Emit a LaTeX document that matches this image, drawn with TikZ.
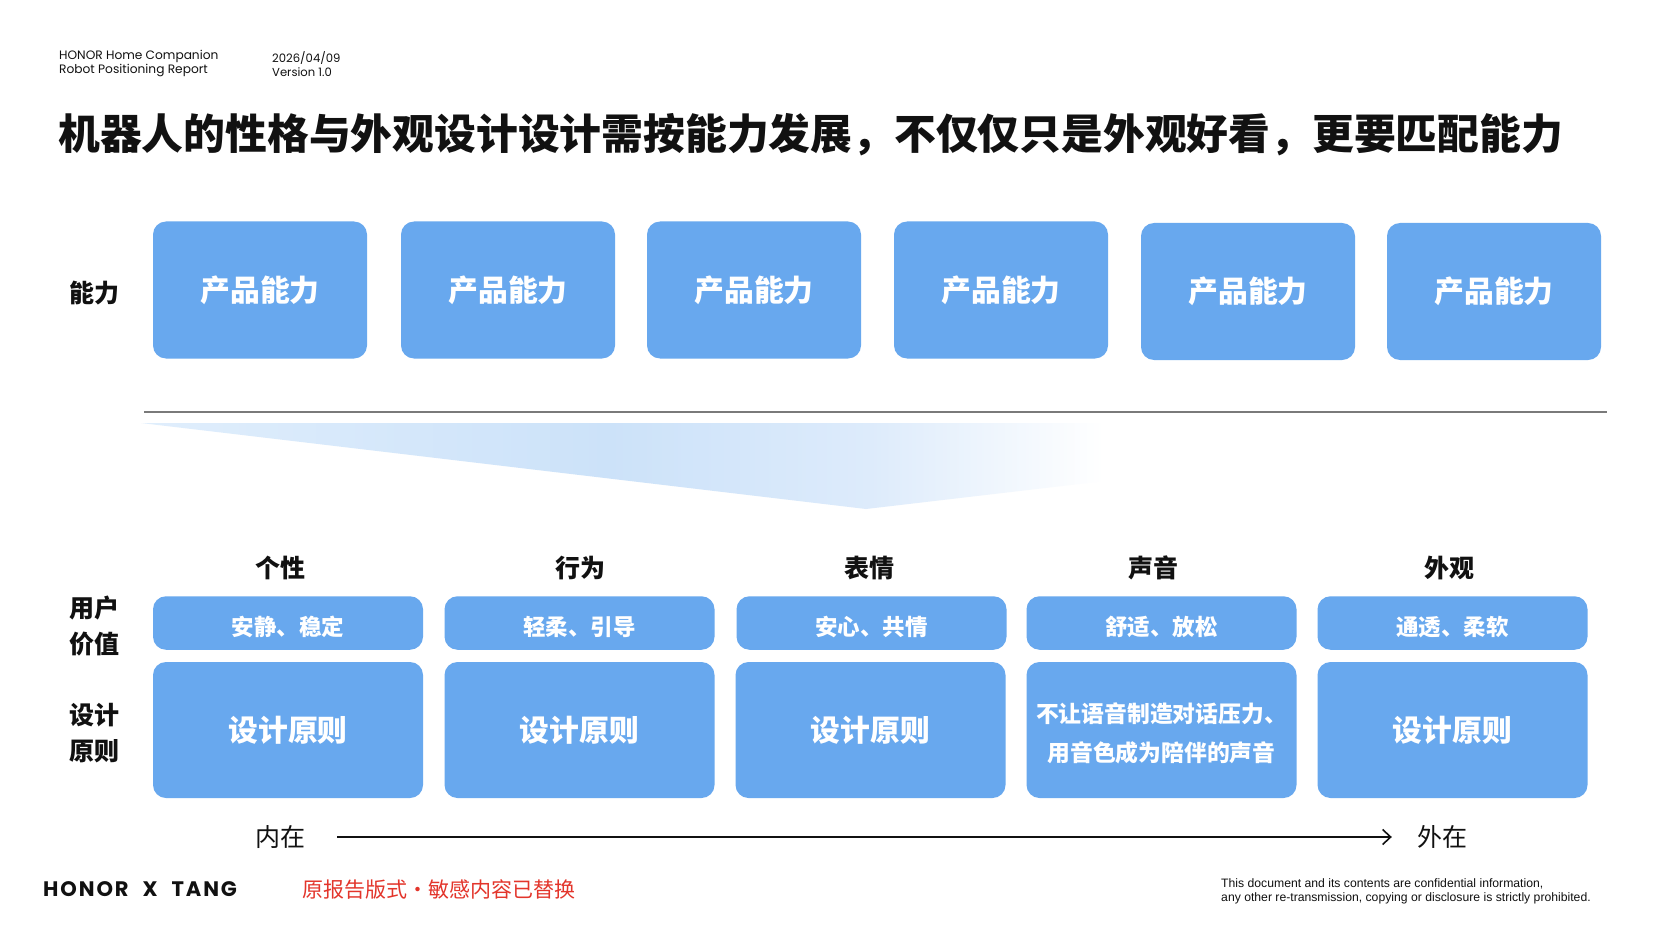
\documentclass[tikz,border=0pt]{standalone}
\usepackage{fontspec}
\usetikzlibrary{arrows.meta}
\setmainfont{Noto Sans CJK SC}
\newfontfamily\pop{Poppins}
\newfontfamily\popls{Poppins}[LetterSpace=9]
\newfontfamily\arial{Liberation Sans}
\definecolor{boxblue}{HTML}{68A8EE}
\definecolor{inkblack}{HTML}{111111}
\definecolor{fanA}{HTML}{E0EEFC}
\definecolor{fanB}{HTML}{CCE2F9}
\definecolor{fanC}{HTML}{DDEBFB}
\definecolor{redtxt}{HTML}{E3352B}
\definecolor{rulegray}{HTML}{7A7A7A}
\pgfdeclarehorizontalshading{fanshade}{100bp}{color(0bp)=(fanA); color(25bp)=(fanA); color(41bp)=(fanB); color(50bp)=(fanC); color(58bp)=(white); color(100bp)=(white)}
\tikzset{
  capbox/.style={fill=boxblue, rounded corners=13pt, minimum width=214pt, minimum height=137pt, inner sep=0pt, text=white, font=\fontsize{29.8}{34}\selectfont\bfseries},
  valbox/.style={fill=boxblue, rounded corners=13pt, minimum width=270pt, minimum height=53.5pt, inner sep=0pt, text=white, text height=26pt, text depth=2pt, font=\fontsize{22.5}{25}\selectfont\bfseries},
  prinbox/.style={fill=boxblue, rounded corners=13pt, minimum width=270pt, minimum height=136pt, inner sep=0pt, text=white, align=center, font=\fontsize{29.8}{34}\selectfont\bfseries},
  smallprin/.style={font=\fontsize{22.8}{39}\selectfont\bfseries},
  rowlab/.style={inner sep=0pt, align=center, text=inkblack, font=\fontsize{25}{35.5}\selectfont\bfseries},
  colhead/.style={inner sep=0pt, text=inkblack, font=\fontsize{25}{30}\selectfont\bfseries},
  axislab/.style={inner sep=0pt, text=inkblack, font=\fontsize{25}{30}\selectfont},
}
\begin{document}
\begin{tikzpicture}[x=1pt, y=-1pt]
\useasboundingbox (0,0) rectangle (1672,941);
\fill[white] (0,0) rectangle (1672,941);

% header
\node[anchor=west, inner sep=0pt, align=left, text=inkblack, font=\pop\fontsize{12.2}{14}\selectfont] (hdr) at (59,64) {HONOR Home Companion\\Robot Positioning Report};
\node[anchor=west, inner sep=0pt, align=left, text=inkblack, font=\pop\fontsize{11.6}{14}\selectfont] (date) at (272,64) {2026/04/09\\Version 1.0};

% title
\node[anchor=west, inner sep=0pt, text=inkblack, font=\fontsize{41.8}{50}\selectfont\bfseries] (title) at (58,135) {机器人的性格与外观设计设计需按能力发展，不仅仅只是外观好看，更要匹配能力};

% capability row
\node[rowlab] (caplab) at (94,293) {能力};
\node[capbox] (c1) at (260,290) {产品能力};
\node[capbox] (c2) at (508,290) {产品能力};
\node[capbox] (c3) at (754,290) {产品能力};
\node[capbox] (c4) at (1001,290) {产品能力};
\node[capbox] (c5) at (1248,291.5) {产品能力};
\node[capbox] (c6) at (1494,291.5) {产品能力};

% divider and fan
\draw[line width=1.4pt, rulegray] (144,412) -- (1607,412);
\shade[shading=fanshade] (141,423) -- (1600,423) -- (866,509) -- cycle;

% column headers
\node[colhead] (h1) at (280,568) {个性};
\node[colhead] (h2) at (580,568) {行为};
\node[colhead] (h3) at (869,568) {表情};
\node[colhead] (h4) at (1153,568) {声音};
\node[colhead] (h5) at (1449,568) {外观};

% row labels
\node[rowlab] (uvlab) at (94,626) {用户\\价值};
\node[rowlab] (dplab) at (94,733) {设计\\原则};

% user value boxes
\node[valbox] (v1) at (288,623) {安静、稳定};
\node[valbox] (v2) at (579.5,623) {轻柔、引导};
\node[valbox] (v3) at (871.5,623) {安心、共情};
\node[valbox] (v4) at (1161.5,623) {舒适、放松};
\node[valbox] (v5) at (1452.5,623) {通透、柔软};

% principle boxes
\node[prinbox] (p1) at (288,730) {设计原则};
\node[prinbox] (p2) at (579.5,730) {设计原则};
\node[prinbox] (p3) at (870.5,730) {设计原则};
\node[prinbox, smallprin] (p4) at (1161.5,730) {\raisebox{-4pt}[\height][\depth]{\begin{tabular}{@{}c@{}}不让语音制造对话压力、\\[-0.5pt]用音色成为陪伴的声音\end{tabular}}};
\node[prinbox] (p5) at (1452.5,730) {设计原则};

% axis
\node[axislab] (inner) at (280,837) {内在};
\node[axislab] (outer) at (1442,837) {外在};
\draw[line width=1.8pt, inkblack, -{Straight Barb[length=8pt,width=15pt,line width=1.6pt]}] ([xshift=32pt]inner.east) -- ([xshift=-25pt]outer.west);

% footer
\node[anchor=west, inner sep=0pt, text=inkblack, font=\popls\bfseries\fontsize{21}{24}\selectfont] (brand) at (43,889) {HONOR\hspace{14pt}X\hspace{14pt}TANG};
\node[anchor=west, inner sep=0pt, text=redtxt, font=\fontsize{21}{24}\selectfont] (note) at (302,890) {原报告版式・敏感内容已替换};
\node[anchor=west, inner sep=0pt, align=left, text=inkblack, font=\arial\fontsize{12.2}{14}\selectfont] (conf) at (1221,891) {This document and its contents are confidential information,\\any other re-transmission, copying or disclosure is strictly prohibited.};
\end{tikzpicture}
\end{document}
